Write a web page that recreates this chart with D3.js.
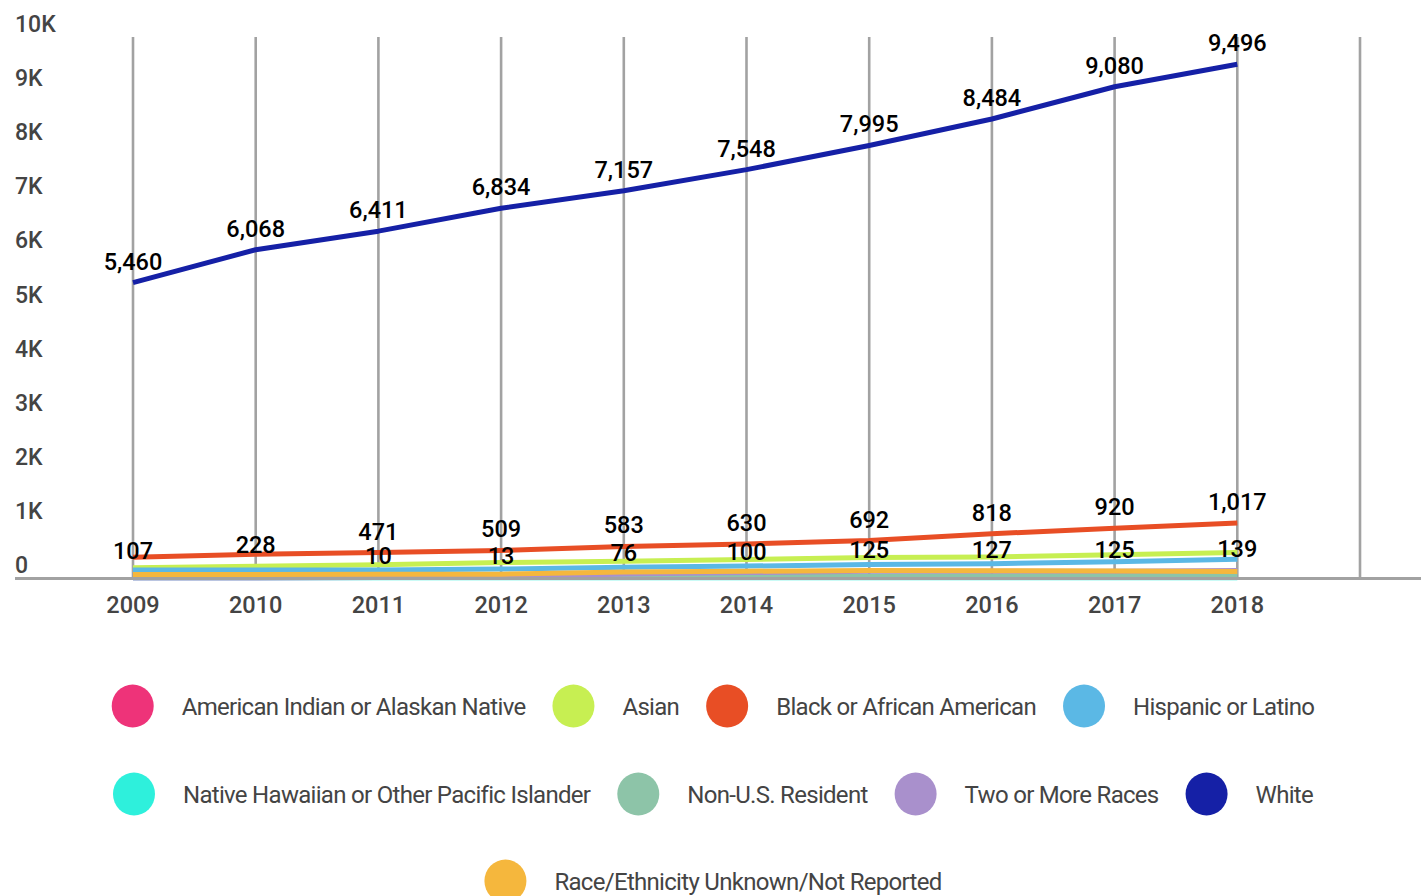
<!DOCTYPE html>
<html>
<head>
<meta charset="utf-8">
<script src="https://cdn.jsdelivr.net/npm/d3@7"></script>
<style>
  body { margin: 0; background: #fff; }
  svg { display: block; font-family: Roboto, "Noto Sans", sans-serif; }
</style>
</head>
<body>
<div id="chart"></div>
<script>
// Datos
const years = [2009, 2010, 2011, 2012, 2013, 2014, 2015, 2016, 2017, 2018];
const gridYears = [2009, 2010, 2011, 2012, 2013, 2014, 2015, 2016, 2017, 2018, 2019];
const yTicks = [0, 1000, 2000, 3000, 4000, 5000, 6000, 7000, 8000, 9000, 10000];

const seriesNames = [
  "American Indian or Alaskan Native",
  "Asian",
  "Black or African American",
  "Hispanic or Latino",
  "Native Hawaiian or Other Pacific Islander",
  "Non-U.S. Resident",
  "Two or More Races",
  "White",
  "Race/Ethnicity Unknown/Not Reported"
];
const seriesColors = ["#ee3379", "#c7ef52", "#e84e25", "#5bb8e5", "#2ef0dc", "#8dc4a8", "#a990cc", "#1520a6", "#f5b73d"];

const americanIndian = [18, 20, 18, 17, 15, 16, 14, 15, 14, 13];
const asian = [190, 215, 245, 285, 310, 340, 380, 390, 430, 470];
const black = [385, 440, 471, 509, 583, 630, 692, 818, 920, 1017];
const hispanic = [150, 150, 150, 165, 200, 220, 250, 265, 300, 345];
const nativeHawaiian = [3, 4, 5, 4, 5, 6, 5, 6, 5, 6];
const nonResident = [10, 10, 12, 15, 20, 25, 35, 40, 45, 55];
const twoOrMore = [0, 0, 10, 13, 76, 100, 125, 127, 125, 139];
const white = [5460, 6068, 6411, 6834, 7157, 7548, 7995, 8484, 9080, 9496];
const unknown = [65, 65, 68, 70, 110, 125, 140, 135, 130, 120];

const seriesValues = [americanIndian, asian, black, hispanic, nativeHawaiian, nonResident, twoOrMore, white, unknown];

// Etiquetas visibles en la parte baja (tal como aparecen)
const lowLabels = [107, 228, 10, 13, 76, 100, 125, 127, 125, 139];
const blackLabelFrom = 2011;

const width = 1424;
const height = 896;

const svg = d3.select("#chart").append("svg")
  .attr("width", width)
  .attr("height", height);

const x = d3.scaleLinear().domain([2009, 2019]).range([133, 1360]);
const y = d3.scaleLinear().domain([0, 10000]).range([578, 37]);

const grey = "#a2a2a2";
const textColor = "#444";

// Rejilla vertical
svg.append("g").selectAll("line")
  .data(gridYears)
  .enter().append("line")
  .attr("x1", d => x(d)).attr("x2", d => x(d))
  .attr("y1", y(10000)).attr("y2", y(0))
  .attr("stroke", grey)
  .attr("stroke-width", 2.6);

// Eje Y
svg.append("g").selectAll("text")
  .data(yTicks)
  .enter().append("text")
  .attr("x", 15)
  .attr("y", d => y(d) - 5)
  .attr("font-size", 23)
  .attr("font-weight", 500)
  .attr("fill", textColor)
  .text(d => d === 0 ? "0" : d / 1000 + "K");

// Eje X
svg.append("g").selectAll("text")
  .data(years)
  .enter().append("text")
  .attr("x", d => x(d))
  .attr("y", 613)
  .attr("text-anchor", "middle")
  .attr("font-size", 23.5)
  .attr("font-weight", 500)
  .attr("fill", textColor)
  .text(d => d);

// Líneas
const line = d3.line()
  .x((d, i) => x(years[i]))
  .y(d => y(d));

svg.append("g").selectAll("path")
  .data(seriesValues)
  .enter().append("path")
  .attr("d", d => line(d))
  .attr("fill", "none")
  .attr("stroke", (d, i) => seriesColors[i])
  .attr("stroke-width", 5)
  .attr("stroke-linejoin", "round");

// Línea base
svg.append("line")
  .attr("x1", 15).attr("x2", 1421)
  .attr("y1", y(0) + 0.5).attr("y2", y(0) + 0.5)
  .attr("stroke", grey)
  .attr("stroke-width", 3);

// Etiquetas de datos
const fmt = d3.format(",");
const labelData = [];
years.forEach((yr, i) => {
  labelData.push({ year: yr, value: white[i] });
  if (yr >= blackLabelFrom) labelData.push({ year: yr, value: black[i] });
  labelData.push({ year: yr, value: lowLabels[i] });
});

svg.append("g").selectAll("text")
  .data(labelData)
  .enter().append("text")
  .attr("x", d => x(d.year))
  .attr("y", d => y(d.value) - 13)
  .attr("text-anchor", "middle")
  .attr("font-size", 23.5)
  .attr("font-weight", 500)
  .attr("fill", "#000")
  .text(d => fmt(d.value));

// Leyenda
const legendFont = 24;
const spacing = -0.7;
const legend = svg.append("g");
const items = seriesNames.map((name, i) => ({ name, color: seriesColors[i] }));
const r = 21, textGap = 28, itemGap = 27, maxRow = 1300;

const measure = legend.append("text").attr("font-size", legendFont).attr("letter-spacing", spacing);
items.forEach(it => {
  measure.text(it.name);
  it.w = 2 * r + textGap + measure.node().getComputedTextLength();
});
measure.remove();

const rows = [];
let cur = [], curW = 0;
items.forEach(it => {
  const add = cur.length ? itemGap + it.w : it.w;
  if (cur.length && curW + add > maxRow) {
    rows.push({ items: cur, w: curW });
    cur = [it]; curW = it.w;
  } else {
    cur.push(it); curW += add;
  }
});
rows.push({ items: cur, w: curW });

const rowY = [706, 794, 881];
rows.forEach((row, ri) => {
  let cx = 713 - row.w / 2;
  row.items.forEach(it => {
    legend.append("ellipse")
      .attr("cx", cx + r).attr("cy", rowY[ri])
      .attr("rx", r).attr("ry", r + 0.5)
      .attr("fill", it.color);
    legend.append("text")
      .attr("x", cx + 2 * r + textGap)
      .attr("y", rowY[ri] + 8.5)
      .attr("font-size", legendFont)
      .attr("letter-spacing", spacing)
      .attr("fill", textColor)
      .text(it.name);
    cx += it.w + itemGap;
  });
});
</script>
</body>
</html>
